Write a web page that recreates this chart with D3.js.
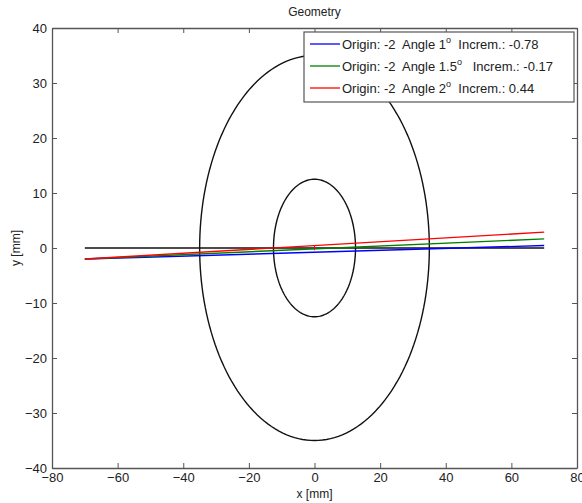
<!DOCTYPE html>
<html><head><meta charset="utf-8">
<script src="https://cdn.jsdelivr.net/npm/d3@7"></script>
<style>body{margin:0;background:#fff}text{font-family:"Liberation Sans",Arial,sans-serif}</style>
</head><body><svg id="c" width="582" height="503"></svg>
<script>
const xTicks = [-80,-60,-40,-20,0,20,40,60,80];
const yTicks = [-40,-30,-20,-10,0,10,20,30,40];
const circleRadii = [35, 12.5];
const rayOrigin = [-70, -2];
const rayEndX = 70;
const rayAngles = [1, 1.5, 2];
const rayIncrements = ["-0.78", "-0.17", "0.44"];
const rayColors = ["#0000ff", "#008000", "#ff0000"];
const rayLabels = ["1", "1.5", "2"];
const baseLine = [[-70,0],[70,0]];

const svg = d3.select("#c");
const L=52,R=577,T=28,B=468;
const x = d3.scaleLinear().domain([-80,80]).range([L,R]);
const y = d3.scaleLinear().domain([-40,40]).range([B,T]);

const g = svg.append("g");
circleRadii.forEach(r=>{
  const pts = d3.range(0,361,2).map(a=>[r*Math.cos(a*Math.PI/180), r*Math.sin(a*Math.PI/180)]);
  g.append("path").attr("d", d3.line().x(d=>x(d[0])).y(d=>y(d[1]))(pts))
   .attr("fill","none").attr("stroke","#111").attr("stroke-width",1.4);
});
g.append("path").attr("d", d3.line().x(d=>x(d[0])).y(d=>y(d[1]))(baseLine))
 .attr("stroke","#111").attr("stroke-width",1.3);
rayAngles.forEach((a,i)=>{
  const pts=[rayOrigin,[rayEndX, rayOrigin[1]+(rayEndX-rayOrigin[0])*Math.tan(a*Math.PI/180)]];
  g.append("path").attr("d", d3.line().x(d=>x(d[0])).y(d=>y(d[1]))(pts))
   .attr("stroke",rayColors[i]).attr("stroke-width",1.4);
});
g.append("line").attr("x1",x(0)).attr("x2",x(0)).attr("y1",y(0.5)).attr("y2",y(-0.4))
 .attr("stroke","#ff0000").attr("stroke-width",1);

const axCol="#555";
const mk=(ax)=>ax.tickSizeOuter(0);
svg.append("g").attr("transform",`translate(0,${B})`).call(mk(d3.axisBottom(x).tickValues(xTicks).tickSizeInner(-5).tickPadding(5).tickFormat(d3.format("d"))));
svg.append("g").attr("transform",`translate(0,${T})`).call(mk(d3.axisTop(x).tickValues(xTicks).tickSizeInner(-5).tickFormat("")));
svg.append("g").attr("transform",`translate(${L},0)`).call(mk(d3.axisLeft(y).tickValues(yTicks).tickSizeInner(-5).tickPadding(5).tickFormat(d3.format("d"))));
svg.append("g").attr("transform",`translate(${R},0)`).call(mk(d3.axisRight(y).tickValues(yTicks).tickSizeInner(-5).tickFormat("")));
svg.selectAll(".domain").attr("stroke",axCol).attr("stroke-width",1.3);
svg.selectAll(".tick line").attr("stroke",axCol);
svg.selectAll(".tick text").attr("font-size",13).attr("fill","#222").attr("font-family","Liberation Sans, Arial, sans-serif");

svg.append("text").attr("x",x(0)).attr("y",16).attr("text-anchor","middle").attr("font-size",12).attr("fill","#222").text("Geometry");
svg.append("text").attr("x",x(0)).attr("y",498).attr("text-anchor","middle").attr("font-size",12).attr("fill","#222").text("x [mm]");
svg.append("text").attr("transform",`translate(20,${y(0)}) rotate(-90)`).attr("text-anchor","middle").attr("font-size",12).attr("fill","#222").text("y [mm]");

const lg = svg.append("g");
lg.append("rect").attr("x",304).attr("y",32).attr("width",270).attr("height",70)
  .attr("fill","#fff").attr("stroke","#555").attr("stroke-width",1.2);
rayAngles.forEach((a,i)=>{
  const yy = 48 + i*22;
  lg.append("line").attr("x1",310).attr("x2",340).attr("y1",yy-4).attr("y2",yy-4).attr("stroke",rayColors[i]).attr("stroke-width",1.3);
  const t = lg.append("text").attr("x",342).attr("y",yy+1).attr("font-size",13).attr("fill","#222");
  t.append("tspan").text(`Origin: -2  Angle ${rayLabels[i]}`);
  t.append("tspan").attr("font-size",9).attr("dy",-6).text("o");
  t.append("tspan").attr("dy",6).text(`${i===1?"   ":"  "}Increm.: ${rayIncrements[i]}`);
  t.attr("xml:space","preserve").style("white-space","pre");
});
</script></body></html>
